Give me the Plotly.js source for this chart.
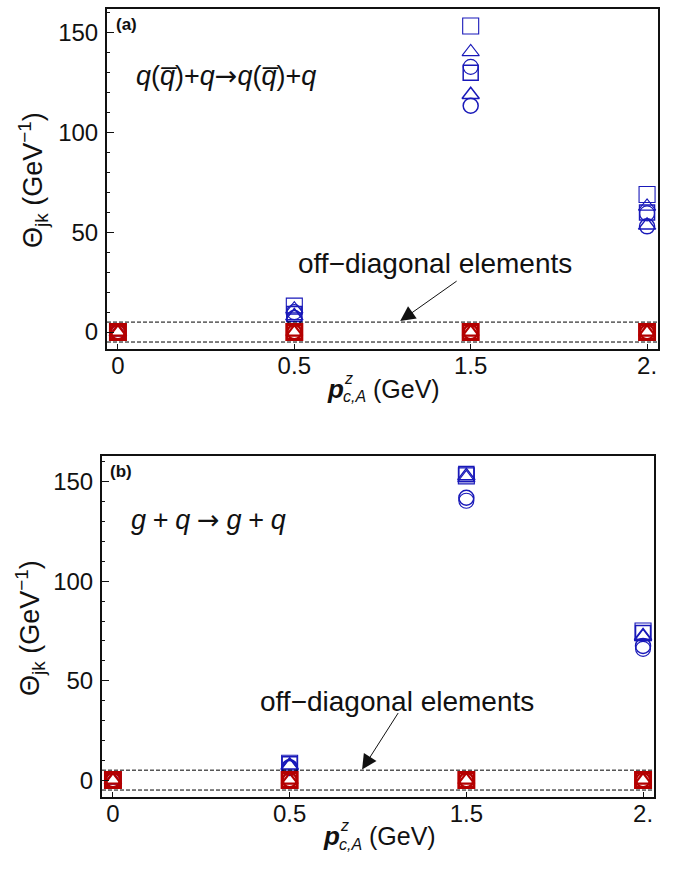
<!DOCTYPE html>
<html><head><meta charset="utf-8">
<script src="https://cdn.plot.ly/plotly-3.0.1.min.js"></script>
<style>body{margin:0;background:#fff}#chart{width:683px;height:869px}</style>
</head><body><div id="chart"></div>
<script>
// categories (p^z_{c,A} in GeV)
const pz = ["0", "0.5", "1.5", "2."];
// panel (a): q(qbar)+q -> q(qbar)+q, diagonal elements
const aSqSolid   = [0, 9,    130,   60];
const aSqDash    = [0, 13,   153.5, 69];
const aTriSolid  = [0, 8,    119,   53.5];
const aTriDash   = [0, 11.5, 140.5, 63];
const aCircSolid = [0, 7,    113.5, 53];
const aCircDash  = [0, 10,   133,   59.5];
const aOffDiag   = [0, 0, 0, 0];
// panel (b): g+q -> g+q, diagonal elements
const bSqSolid   = [0, 8,   154,   74];
const bSqDash    = [0, 8.5, 153,   75];
const bTriSolid  = [0, 7.5, 153,   72.5];
const bTriDash   = [0, 7,   152,   72];
const bCircSolid = [0, 6.5, 142,   67.5];
const bCircDash  = [0, 6,   140.5, 66];
const bOffDiag   = [0, 0, 0, 0];
// band of off-diagonal elements
const offBand = [-5, 5];
const yTickVals = [0, 50, 100, 150];

const BLUE = 'rgb(25,25,185)';
const RED = 'rgb(180,0,0)';
const FONT = 'Liberation Sans, Arial, sans-serif';

function tr(y, sym, color, w, xa, ya, size) {
  return {
    x: pz, y: y, type: 'scatter', mode: 'markers', xaxis: xa, yaxis: ya,
    hoverinfo: 'skip', showlegend: false,
    marker: {symbol: sym, size: size || 15, color: color, line: {color: color, width: w}}
  };
}

const data = [];
[['x','y',[aSqDash,aTriDash,aCircDash,aSqSolid,aTriSolid,aCircSolid],aOffDiag],
 ['x2','y2',[bSqDash,bTriDash,bCircDash,bSqSolid,bTriSolid,bCircSolid],bOffDiag]].forEach(p => {
  const [xa, ya, s, off] = p;
  data.push(tr(s[0], 'square-open', BLUE, 1.1, xa, ya, 16));
  data.push(tr(s[1], 'triangle-up-open', BLUE, 1.1, xa, ya));
  data.push(tr(s[2], 'circle-open', BLUE, 1.1, xa, ya));
  data.push(tr(s[3], 'square-open', BLUE, 1.5, xa, ya));
  data.push(tr(s[4], 'triangle-up-open', BLUE, 1.5, xa, ya));
  data.push(tr(s[5], 'circle-open', BLUE, 1.5, xa, ya));
  data.push(tr(off, 'square-open', RED, 3, xa, ya, 15));
  data.push(tr(off, 'triangle-up-open', RED, 2.2, xa, ya, 14));
  data.push(tr(off, 'circle-open', RED, 2.2, xa, ya, 14));
});

const W = 683, H = 869;
const px = v => v / W, py = v => 1 - v / H;

function xax(d0, d1, anchor) {
  return {
    domain: [px(d0), px(d1)], anchor: anchor, type: 'category', range: [-0.062, 3.062],
    showline: true, linewidth: 2, linecolor: '#111', mirror: true,
    ticks: 'inside', ticklen: 5, tickwidth: 1, tickcolor: '#111',
    tickfont: {family: FONT, size: 24, color: '#111'}, ticklabelstandoff: -6,
    showgrid: false, zeroline: false, fixedrange: true
  };
}
function yax(top, bot, r, anchor) {
  return {
    domain: [py(bot), py(top)], anchor: anchor, range: r,
    tickmode: 'array', tickvals: yTickVals,
    showline: true, linewidth: 2, linecolor: '#111', mirror: true,
    ticks: 'inside', ticklen: 7, tickwidth: 1, tickcolor: '#111',
    minor: {dtick: 10, tick0: 0, ticks: 'inside', ticklen: 3, tickwidth: 1, tickcolor: '#111', showgrid: false},
    tickfont: {family: FONT, size: 24, color: '#111'}, ticklabelstandoff: 2,
    showgrid: false, zeroline: false, fixedrange: true
  };
}

const shapes = [];
[['x','y'],['x2','y2']].forEach(p => {
  offBand.forEach(v => shapes.push({
    type: 'line', xref: p[0] + ' domain', yref: p[1], x0: 0, x1: 1, y0: v, y1: v,
    line: {color: '#000', width: 1, dash: '4px,2px'}, layer: 'above'
  }));
});

function ann(text, x, y, size, opts) {
  return Object.assign({text: text, xref: 'paper', yref: 'paper', x: px(x), y: py(y),
    showarrow: false, xanchor: 'left', yanchor: 'middle',
    font: {family: FONT, size: size, color: '#111'}}, opts || {});
}
const qb = '<i>q\u0305</i>';
const arr = '<span style="font-family:DejaVu Sans">\u2192</span>';
const sp = '\u2005';
const procA = '<i>q</i>(' + qb + ')+<i>q</i>' + arr + '<i>q</i>(' + qb + ')+<i>q</i>';
const procB = '<i>g</i>' + sp + '+' + sp + '<i>q</i>' + sp + arr + sp + '<i>g</i>' + sp + '+' + sp + '<i>q</i>';
const yTitle = '\u0398<sub>jk</sub> (GeV<sup>\u22121</sup>)';

function xTitle(cx, y) {
  const L = cx - 57;
  return [
    ann('<b><i>p</i></b>', L, y, 26),
    ann('<i>z</i>', L + 17, y - 11, 16),
    ann('<i>c,A</i>', L + 16, y + 8, 16),
    ann('(GeV)', L + 46, y, 25)
  ];
}

const annotations = [
  ann('<b>(a)</b>', 114, 24, 17),
  ann('<b>(b)</b>', 108, 471, 17),
  ann(procA, 134, 76, 27),
  ann(procB, 129, 519, 27),
  ann('off\u2212diagonal elements', 435, 263, 28, {xanchor: 'center'}),
  ann('off\u2212diagonal elements', 397, 701, 28, {xanchor: 'center'}),
  ann(yTitle, 33, 180, 27, {xanchor: 'center', textangle: -90}),
  ann(yTitle, 30, 628, 27, {xanchor: 'center', textangle: -90}),
  {text: '', xref: 'x', yref: 'y', x: 1.6, y: 5.5, ax: 58, ay: -41,
   showarrow: true, arrowhead: 2, arrowsize: 3, arrowwidth: 1, arrowcolor: '#111'},
  {text: '', xref: 'x2', yref: 'y2', x: 1.41, y: 5.3, ax: 37, ay: -58,
   showarrow: true, arrowhead: 2, arrowsize: 3, arrowwidth: 1, arrowcolor: '#111'}
].concat(xTitle(382, 389)).concat(xTitle(378, 836));

const layout = {
  width: W, height: H, margin: {l: 0, r: 0, t: 0, b: 0},
  paper_bgcolor: '#fff', plot_bgcolor: '#fff', showlegend: false,
  xaxis: xax(107, 658, 'y'),
  yaxis: yax(9, 349, [-8.5, 162], 'x'),
  xaxis2: xax(102, 654, 'y2'),
  yaxis2: yax(456, 797, [-8.5, 163], 'x2'),
  shapes: shapes, annotations: annotations
};

Plotly.newPlot('chart', data, layout, {displayModeBar: false, staticPlot: true});
</script>
</body></html>
